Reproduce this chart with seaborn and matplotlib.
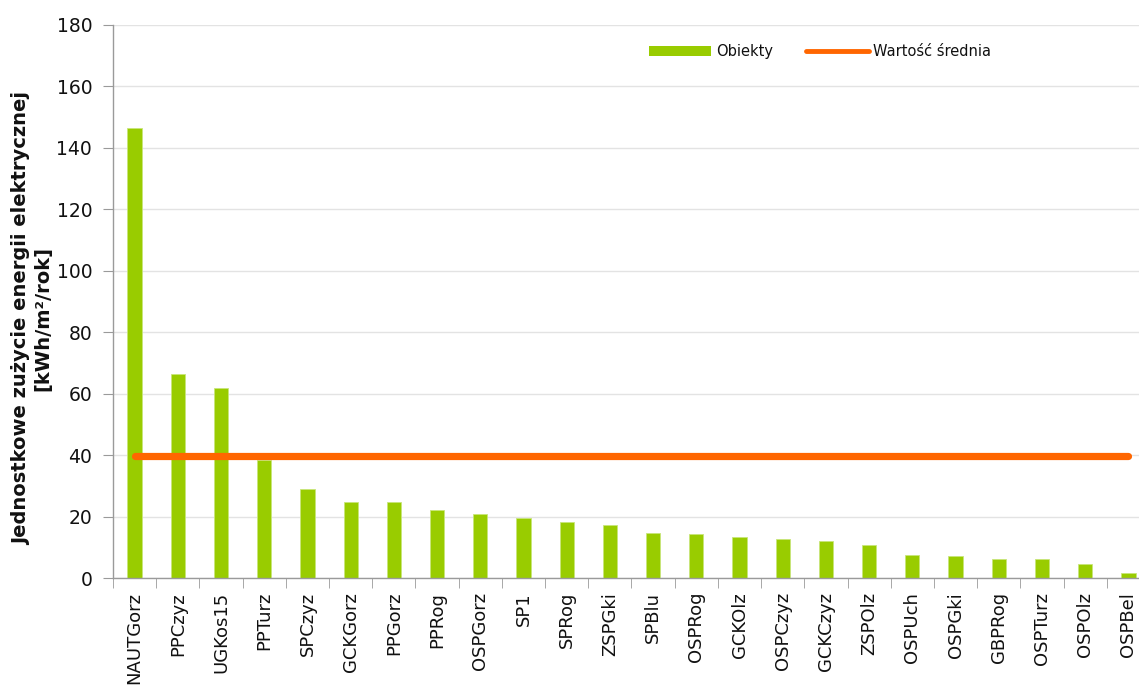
import numpy as np
import pandas as pd
import seaborn as sns
import matplotlib.pyplot as plt
from matplotlib.patches import Patch
from matplotlib.lines import Line2D

# data
objects = ["NAUTGorz", "PPCzyz", "UGKos15", "PPTurz", "SPCzyz", "GCKGorz", "PPGorz",
           "PPRog", "OSPGorz", "SP1", "SPRog", "ZSPGki", "SPBlu", "OSPRog", "GCKOlz",
           "OSPCzyz", "GCKCzyz", "ZSPOlz", "OSPUch", "OSPGki", "GBPRog", "OSPTurz",
           "OSPOlz", "OSPBel"]
usage = [146.5, 66.4, 61.8, 38.4, 29.0, 24.7, 24.7, 22.1, 20.8, 19.5, 18.2, 17.3,
         14.6, 14.3, 13.3, 12.7, 12.0, 10.7, 7.5, 7.2, 6.2, 6.2, 4.6, 1.6]
mean_value = 39.7
y_ticks = [0, 20, 40, 60, 80, 100, 120, 140, 160, 180]

GREEN = "#99CC00"
ORANGE = "#FF6600"

df = pd.DataFrame({"obiekt": objects, "wartosc": usage})
df["srednia"] = [mean_value] * len(objects)

sns.set_style("white")
plt.rcParams["font.family"] = ["DejaVu Sans"]

fig = plt.figure(figsize=(11.39, 6.89), dpi=100)
# plot area runs past the right edge of the image, like the original
ax = fig.add_axes([113 / 1139, 1 - 578 / 689, (1150 - 113) / 1139, (578 - 25) / 689])

sns.barplot(data=df, x="obiekt", y="wartosc", color=GREEN, saturation=1, width=0.33,
            edgecolor="#C8E67A", linewidth=0.6, ax=ax, zorder=2)
ax.plot(np.arange(len(objects)), df["srednia"], color=ORANGE, lw=5.2,
        solid_capstyle="round", zorder=3)

ax.set_xlim(-0.5, len(objects) - 0.5)
ax.set_ylim(0, 180)
ax.set_yticks(y_ticks)
ax.yaxis.grid(True, color="#E3E3E3", lw=1.0, zorder=0)
ax.set_axisbelow(True)

for s in ["top", "right"]:
    ax.spines[s].set_visible(False)
for s in ["left", "bottom"]:
    ax.spines[s].set_color("#9A9A9A")
    ax.spines[s].set_linewidth(1.0)

ax.tick_params(axis="y", which="major", direction="out", length=7, color="#9A9A9A",
               labelsize=13.5, labelcolor="#111111", left=True, pad=8)
ax.set_xticks(np.arange(len(objects)))
ax.set_xticklabels(objects, rotation=90, fontsize=13, color="#111111")
ax.tick_params(axis="x", which="major", length=0, pad=10)
ax.set_xticks(np.arange(len(objects) + 1) - 0.5, minor=True)
ax.tick_params(axis="x", which="minor", direction="out", length=7, color="#9A9A9A",
               bottom=True)

ax.set_xlabel("")
ax.set_ylabel("Jednostkowe zużycie energii elektrycznej\n[kWh/m²/rok]",
              fontsize=14, fontweight="bold", linespacing=1.15, va="center",
              color="#111111")
ax.yaxis.set_label_coords(-0.078, 0.47)

handles = [Patch(facecolor=GREEN, edgecolor="none"),
           Line2D([0], [0], color=ORANGE, lw=3.5, solid_capstyle="round")]
fig.legend(handles, ["Obiekty", "Wartość średnia"], loc="center",
           bbox_to_anchor=(0.72, 0.925), ncol=2, frameon=False,
           fontsize=10.5, labelcolor="#111111", handlelength=4.3, handleheight=0.75,
           columnspacing=2.3, handletextpad=0.3)

fig.savefig("out.png", dpi=100)
